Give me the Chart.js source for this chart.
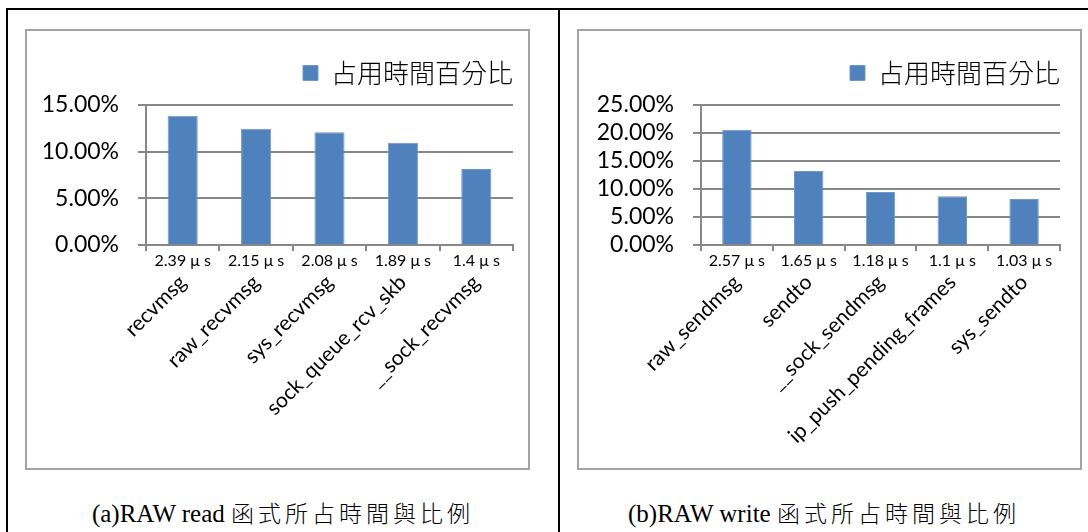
<!DOCTYPE html>
<html>
<head>
<meta charset="utf-8">
<script src="https://cdn.jsdelivr.net/npm/chart.js@4.4.1/dist/chart.umd.min.js"></script>
<style>
  body { margin: 0; background: #fff; width: 1088px; height: 532px; overflow: hidden; position: relative; }
  .line { position: absolute; background: #000; }
  .box { position: absolute; top: 29px; width: 505px; height: 441px; border: 2px solid #a3a3a3; box-sizing: border-box; }
  .box canvas { display: block; }
  .cap { position: absolute; top: 495px; font-family: "Liberation Serif", "Times New Roman", serif; font-size: 25px; color: #000; white-space: nowrap; text-align: center; }
  .cap span { font-family: "Noto Sans CJK TC", sans-serif; font-size: 23px; letter-spacing: 4px; font-weight: 300; }
</style>
</head>
<body>
<div class="line" style="left:6px; top:8px; width:1082px; height:2px;"></div>
<div class="line" style="left:6px; top:8px; width:2px; height:524px;"></div>
<div class="line" style="left:558px; top:8px; width:2px; height:524px;"></div>

<div class="box" style="left:25px;"><canvas id="readChart" width="501" height="437"></canvas></div>
<div class="box" style="left:577px;"><canvas id="writeChart" width="501" height="437"></canvas></div>

<div class="cap" style="left:8px; width:550px;">(a)RAW read <span>函式所占時間與比例</span></div>
<div class="cap" style="left:560px; width:528px;">(b)RAW write <span>函式所占時間與比例</span></div>

<script>
// RAW read
const readNames = ['recvmsg', 'raw_recvmsg', 'sys_recvmsg', 'sock_queue_rcv_skb', '__sock_recvmsg'];
const readTimes = ['2.39 μ s', '2.15 μ s', '2.08 μ s', '1.89 μ s', '1.4 μ s'];
const readPct = [13.86, 12.46, 12.07, 10.96, 8.14];
const readMax = 15;

// RAW write
const writeNames = ['raw_sendmsg', 'sendto', '__sock_sendmsg', 'ip_push_pending_frames', 'sys_sendto'];
const writeTimes = ['2.57 μ s', '1.65 μ s', '1.18 μ s', '1.1 μ s', '1.03 μ s'];
const writePct = [20.6, 13.2, 9.46, 8.7, 8.2];
const writeMax = 25;

const seriesName = '占用時間百分比';
const gridGray = '#878787';

// make the legend block a fixed height so the plot starts lower
const legendHeight = {
  id: 'legendHeight',
  beforeInit(chart) {
    const fit = chart.legend.fit;
    chart.legend.fit = function () {
      fit.bind(this)();
      this.height = 45;
    };
  }
};

function makeChart(id, names, times, pct, yMax, yWidth, padRight) {
  const ctx = document.getElementById(id).getContext('2d');
  return new Chart(ctx, {
    type: 'bar',
    data: {
      labels: times,
      datasets: [{
        label: seriesName,
        data: pct,
        backgroundColor: '#4f81bd',
        borderColor: '#6f98c9',
        borderWidth: 1,
        categoryPercentage: 1,
        barPercentage: 0.41
      }]
    },
    plugins: [legendHeight],
    options: {
      responsive: false,
      animation: false,
      layout: { padding: { top: 29, left: 17, right: padRight, bottom: 0 } },
      plugins: {
        tooltip: { enabled: false },
        legend: {
          position: 'top',
          align: 'end',
          labels: {
            boxWidth: 15,
            boxHeight: 15,
            padding: 0,
            color: '#000',
            font: { family: '"Noto Sans CJK TC", sans-serif', size: 26, weight: 300 }
          }
        }
      },
      scales: {
        y: {
          min: 0,
          max: yMax,
          afterFit: s => { s.width = yWidth; },
          ticks: {
            stepSize: 5,
            autoSkip: false,
            padding: 19,
            color: '#000',
            font: { family: 'Lato, sans-serif', size: 23 },
            callback: v => v.toFixed(2) + '%'
          },
          grid: { color: gridGray, lineWidth: 2, tickLength: 8 },
          border: { display: true, color: gridGray, width: 2 }
        },
        x: {
          weight: 1,
          afterFit: s => { s.height = 26; },
          ticks: {
            maxRotation: 0,
            minRotation: 0,
            autoSkip: false,
            padding: 0,
            color: '#000',
            font: { family: 'Lato, sans-serif', size: 16 }
          },
          grid: { drawOnChartArea: false, color: gridGray, lineWidth: 2, tickLength: 6 },
          border: { display: true, color: gridGray, width: 2 }
        },
        names: {
          type: 'category',
          position: 'bottom',
          weight: 2,
          labels: names,
          offset: true,
          afterFit: s => { s.height = 197; },
          ticks: {
            maxRotation: 45,
            minRotation: 45,
            autoSkip: false,
            padding: -9,
            color: '#000',
            font: { family: 'Lato, sans-serif', size: 21 }
          },
          grid: { display: false },
          border: { display: false }
        }
      }
    }
  });
}

makeChart('readChart', readNames, readTimes, readPct, readMax, 102, 15);
makeChart('writeChart', writeNames, writeTimes, writePct, writeMax, 105, 20);
</script>
</body>
</html>
